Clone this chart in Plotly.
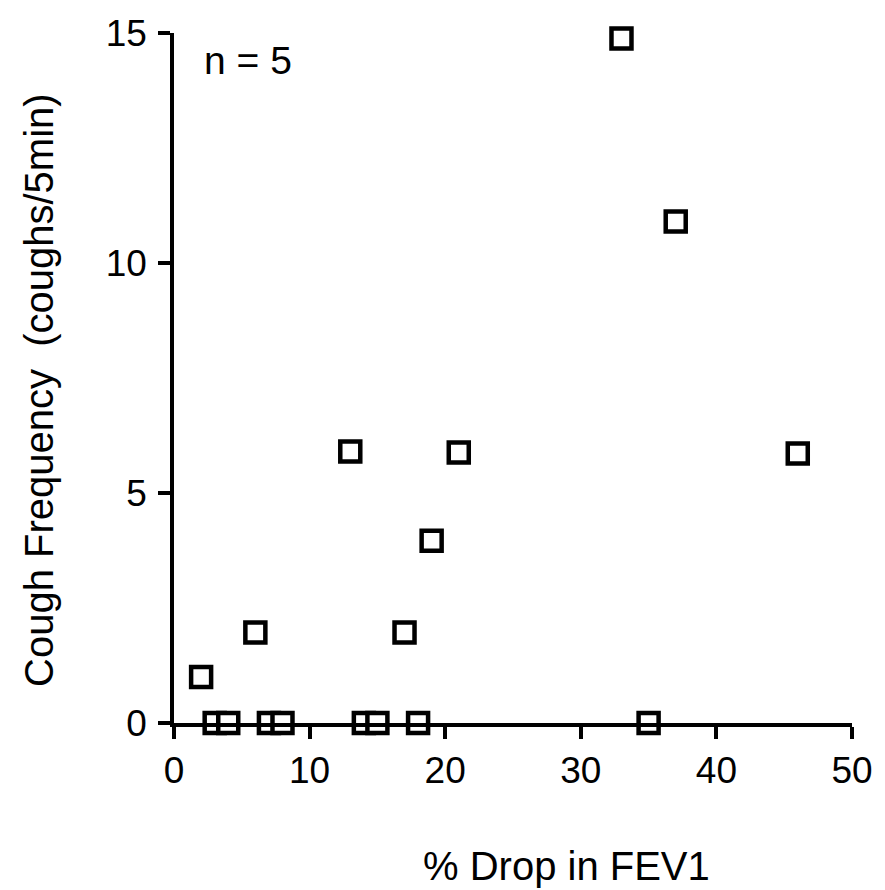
import plotly.graph_objects as go

# Data
drop_fev1 = [2, 3, 4, 7, 8, 6, 13, 14, 15, 17, 18, 19, 21, 33, 35, 37, 46]
cough_freq = [1.0, 0, 0, 0, 0, 1.97, 5.9, 0, 0, 1.97, 0, 3.96, 5.88, 14.88, 0, 10.9, 5.86]

x_ticks = [0, 10, 20, 30, 40, 50]
y_ticks = [0, 5, 10, 15]

FONT = "Liberation Sans, Arial, Helvetica, sans-serif"

fig = go.Figure()
fig.add_trace(go.Scatter(
    x=drop_fev1, y=cough_freq, mode="markers",
    marker=dict(symbol="square", size=20, color="white",
                line=dict(width=4.5, color="black")),
    cliponaxis=False, showlegend=False,
))

axis_common = dict(
    showline=True, linecolor="black", linewidth=3.5,
    ticks="outside", ticklen=12, tickwidth=3.5, tickcolor="black",
    showgrid=False, zeroline=False,
    tickfont=dict(family=FONT, size=37, color="black"),
)

fig.update_layout(
    width=885, height=890,
    margin=dict(l=174, r=28, t=33, b=167),
    paper_bgcolor="white", plot_bgcolor="white",
    xaxis=dict(range=[0, 50], tickvals=x_ticks, **axis_common),
    yaxis=dict(range=[0, 15], tickvals=y_ticks, ticklabelstandoff=4, **axis_common),
    annotations=[
        dict(text="n = 5", xref="x", yref="y", x=2.1, y=14.4,
             xanchor="left", yanchor="middle", showarrow=False,
             font=dict(family=FONT, size=39, color="black")),
        dict(text="% Drop in FEV1", xref="paper", yref="paper",
             x=(569 - 174) / 683, y=-(866 - 723) / 690,
             xanchor="center", yanchor="middle", showarrow=False,
             font=dict(family=FONT, size=40, color="black")),
        dict(text="Cough Frequency  (coughs/5min)", xref="paper", yref="paper",
             x=-(174 - 38) / 683, y=(723 - 390) / 690, textangle=-90,
             xanchor="center", yanchor="middle", showarrow=False,
             font=dict(family=FONT, size=40, color="black")),
    ],
)

fig.write_html("out.html")
